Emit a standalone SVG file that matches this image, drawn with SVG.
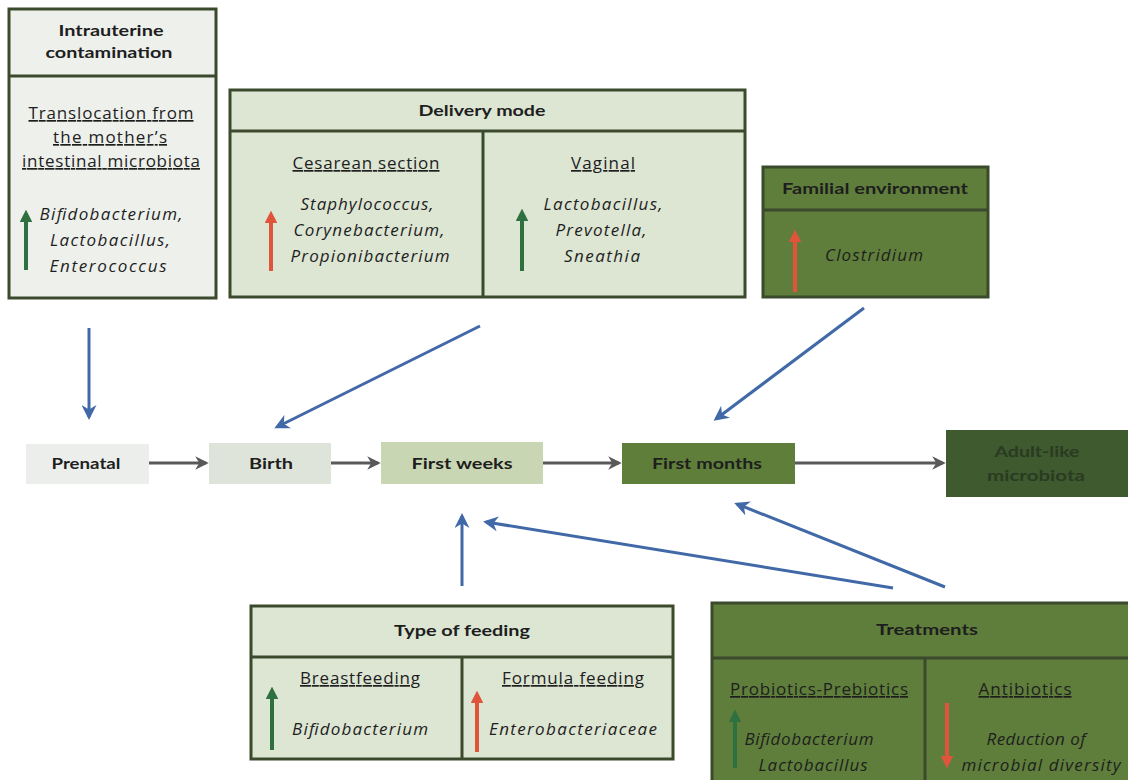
<svg xmlns="http://www.w3.org/2000/svg" width="1128" height="780" viewBox="0 0 1128 780">
<defs>
<style>
text{font-family:"Open Sans",Lato,"Liberation Sans",sans-serif;fill:#1e1e1e;text-anchor:middle}
.b{font-family:Lato,"Open Sans",sans-serif;font-weight:bold;font-size:15px}
.u{font-size:17px;text-decoration:underline}
.i{font-style:italic;font-size:17px}
.bx{stroke:#3b4a2c;stroke-width:3}
.l1{fill:#eef0ec}
.l2{fill:#dde5d3}
.d1{fill:#5f7e3b}
.c{stroke:#4169a8;stroke-width:3;fill:none;marker-end:url(#bh)}
.g{stroke:#595959;stroke-width:3;fill:none;marker-end:url(#gh)}
.ag{stroke:#2f7040;stroke-width:4;marker-end:url(#ga)}
.ar{stroke:#e0543c;stroke-width:4;marker-end:url(#ra)}
</style>
<marker id="bh" viewBox="0 0 10 10" refX="8" refY="5" markerWidth="5" markerHeight="5" orient="auto" markerUnits="strokeWidth"><path d="M0,0L10,5L0,10L3,5z" fill="#4169a8"/></marker>
<marker id="gh" viewBox="0 0 10 10" refX="8" refY="5" markerWidth="4.5" markerHeight="4.5" orient="auto" markerUnits="strokeWidth"><path d="M0,0L10,5L0,10L3,5z" fill="#595959"/></marker>
<marker id="ga" viewBox="0 0 10 10" refX="5" refY="5" markerWidth="3.2" markerHeight="3.2" orient="auto" markerUnits="strokeWidth"><path d="M0,0L10,5L0,10z" fill="#2f7040"/></marker>
<marker id="ra" viewBox="0 0 10 10" refX="5" refY="5" markerWidth="3.2" markerHeight="3.2" orient="auto" markerUnits="strokeWidth"><path d="M0,0L10,5L0,10z" fill="#e0543c"/></marker>
</defs>
<rect width="1128" height="780" fill="#ffffff"/>

<g id="intrauterine">
<rect class="bx l1" x="9" y="9" width="207" height="289"/>
<line class="bx" x1="9" y1="76" x2="216" y2="76"/>
<text class="b" x="111" y="36" textLength="105" lengthAdjust="spacingAndGlyphs">Intrauterine</text>
<text class="b" x="109" y="58" textLength="127" lengthAdjust="spacingAndGlyphs">contamination</text>
<text class="u" x="111" y="119" textLength="165">Translocation from</text>
<text class="u" x="110" y="143" textLength="114">the mother’s</text>
<text class="u" x="111" y="167" textLength="178">intestinal microbiota</text>
<line class="ag" x1="26" y1="270" x2="26" y2="216"/>
<text class="i" x="111" y="220" textLength="143">Bifidobacterium,</text>
<text class="i" x="110" y="246" textLength="120">Lactobacillus,</text>
<text class="i" x="108" y="272" textLength="117">Enterococcus</text>
</g>

<g id="delivery">
<rect class="bx l2" x="230" y="90" width="515" height="207"/>
<line class="bx" x1="230" y1="131" x2="745" y2="131"/>
<line class="bx" x1="483" y1="131" x2="483" y2="297"/>
<text class="b" x="482" y="116" textLength="127" lengthAdjust="spacingAndGlyphs">Delivery mode</text>
<text class="u" x="366" y="169" textLength="147">Cesarean section</text>
<line class="ar" x1="271" y1="271" x2="271" y2="217"/>
<text class="i" x="367" y="210" textLength="133">Staphylococcus,</text>
<text class="i" x="369" y="236" textLength="151">Corynebacterium,</text>
<text class="i" x="370" y="262" textLength="159">Propionibacterium</text>
<text class="u" x="603" y="169" textLength="64">Vaginal</text>
<line class="ag" x1="522" y1="271" x2="522" y2="215"/>
<text class="i" x="603" y="210" textLength="119">Lactobacillus,</text>
<text class="i" x="601" y="236" textLength="91">Prevotella,</text>
<text class="i" x="602" y="262" textLength="76">Sneathia</text>
</g>

<g id="familial">
<rect class="bx d1" x="763" y="167" width="225" height="130"/>
<line class="bx" x1="763" y1="210" x2="988" y2="210"/>
<text class="b" x="875" y="194" textLength="186" lengthAdjust="spacingAndGlyphs">Familial environment</text>
<line class="ar" x1="795" y1="292" x2="795" y2="236"/>
<text class="i" x="874" y="261" textLength="98">Clostridium</text>
</g>

<g id="prenatal">
<rect x="26" y="444" width="123" height="40" fill="#eceeec"/>
<text class="b" x="86" y="469" textLength="69" lengthAdjust="spacingAndGlyphs">Prenatal</text>
</g>
<g id="birth">
<rect x="209" y="443" width="122" height="41" fill="#dfe4da"/>
<text class="b" x="271" y="469" textLength="44" lengthAdjust="spacingAndGlyphs">Birth</text>
</g>
<g id="firstweeks">
<rect x="381" y="442" width="162" height="42" fill="#c9d6b3"/>
<text class="b" x="462" y="469" textLength="101" lengthAdjust="spacingAndGlyphs">First weeks</text>
</g>
<g id="firstmonths">
<rect x="622" y="443" width="173" height="41" fill="#5e7e39"/>
<text class="b" x="707" y="469" textLength="110" lengthAdjust="spacingAndGlyphs">First months</text>
</g>
<g id="adult">
<rect x="946" y="430" width="182" height="67" fill="#3e5a2e"/>
<text class="b" x="1037" y="457" textLength="85" lengthAdjust="spacingAndGlyphs" style="fill:#2b3a22">Adult-like</text>
<text class="b" x="1036" y="481" textLength="98" lengthAdjust="spacingAndGlyphs" style="fill:#2b3a22">microbiota</text>
</g>

<g id="feeding">
<rect class="bx l2" x="251" y="606" width="422" height="153"/>
<line class="bx" x1="251" y1="657" x2="673" y2="657"/>
<line class="bx" x1="462" y1="657" x2="462" y2="759"/>
<text class="b" x="462" y="636" textLength="136" lengthAdjust="spacingAndGlyphs">Type of feeding</text>
<text class="u" x="360" y="684" textLength="120">Breastfeeding</text>
<line class="ag" x1="272" y1="750" x2="272" y2="693"/>
<text class="i" x="360" y="735" textLength="136">Bifidobacterium</text>
<text class="u" x="573" y="684" textLength="142">Formula feeding</text>
<line class="ar" x1="477" y1="752" x2="477" y2="697"/>
<text class="i" x="573" y="735" textLength="168">Enterobacteriaceae</text>
</g>

<g id="treatments">
<rect class="bx d1" x="712" y="603" width="418" height="180"/>
<line class="bx" x1="712" y1="658" x2="1128" y2="658"/>
<line class="bx" x1="925" y1="658" x2="925" y2="780"/>
<text class="b" x="927" y="635" textLength="102" lengthAdjust="spacingAndGlyphs">Treatments</text>
<text class="u" x="819" y="695" textLength="178">Probiotics-Prebiotics</text>
<line class="ag" x1="735" y1="768" x2="735" y2="716"/>
<text class="i" x="809" y="745" textLength="129">Bifidobacterium</text>
<text class="i" x="813" y="771" textLength="109">Lactobacillus</text>
<text class="u" x="1025" y="695" textLength="93">Antibiotics</text>
<line class="ar" x1="947" y1="703" x2="947" y2="762"/>
<text class="i" x="1036" y="745" textLength="99">Reduction of</text>
<text class="i" x="1041" y="771" textLength="159">microbial diversity</text>
</g>

<g id="connectors">
<line class="g" x1="149" y1="463" x2="206" y2="463"/>
<line class="g" x1="331" y1="463" x2="378" y2="463"/>
<line class="g" x1="543" y1="463" x2="619" y2="463"/>
<line class="g" x1="795" y1="463" x2="943" y2="463"/>
<line class="c" x1="89" y1="328" x2="89" y2="417"/>
<line class="c" x1="480" y1="326" x2="277" y2="427"/>
<line class="c" x1="864" y1="308" x2="716" y2="419"/>
<line class="c" x1="462" y1="586" x2="462" y2="516"/>
<line class="c" x1="893" y1="588" x2="486" y2="522"/>
<line class="c" x1="945" y1="587" x2="737" y2="504"/>
</g>
</svg>
